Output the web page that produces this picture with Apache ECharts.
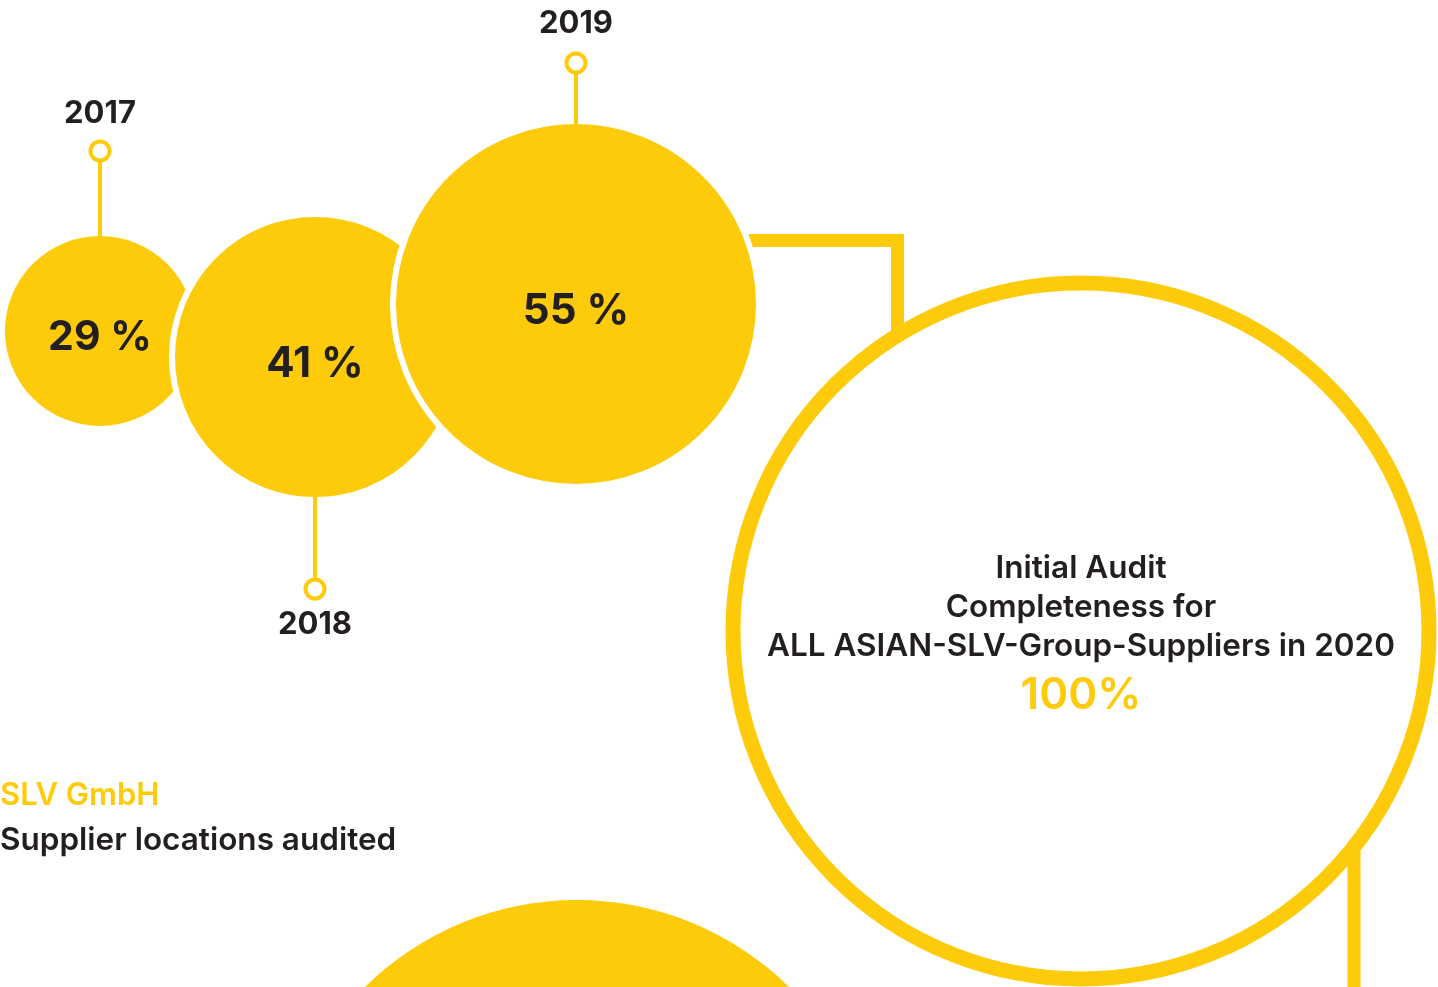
<!DOCTYPE html>
<html>
<head>
<meta charset="utf-8">
<script src="https://cdn.jsdelivr.net/npm/echarts@6/dist/echarts.min.js"></script>
<style>
html,body{margin:0;padding:0;background:#fff;}
#chart{width:1438px;height:987px;}
</style>
</head>
<body>
<div id="chart"></div>
<script>
// ---- data ----
const years = ['2017', '2018', '2019'];
const auditedShare = [29, 41, 55];            // % supplier locations audited
const targetYear = '2020';
const targetShare = 100;                        // % initial audit completeness
const headline = 'SLV GmbH';
const subline = 'Supplier locations audited';
const targetText = ['Initial Audit', 'Completeness for', 'ALL ASIAN-SLV-Group-Suppliers in 2020'];

// ---- layout (positions/sizes in an invisible 1438 x 987 coordinate frame) ----
const bubbleX = [100, 315, 576];
const bubbleY = [331, 357, 304];
const bubbleD = [196, 286, 366];
const pinY = [151, 589, 63];
const yearLabelY = [114, 625, 24];
const ring = {x: 1081, y: 631, d: 696};
const nextBubble = {x: 577, y: 1202, d: 604};

const YELLOW = '#FECB0B';
const DARK = '#231F20';
const FONT = 'Inter';

const series = [];

// pins (stems), starting just inside each bubble's rim
years.forEach((y, i) => {
  const dir = pinY[i] < bubbleY[i] ? -1 : 1;
  const startY = bubbleY[i] + dir * (bubbleD[i] / 2 - 12);
  series.push({
    type: 'line', z: 8, silent: true, symbol: 'none',
    lineStyle: {color: YELLOW, width: 4},
    data: [[bubbleX[i], startY], [bubbleX[i], pinY[i]]]
  });
});

// connector 2019 -> 2020 ring
series.push({
  type: 'line', z: 1, silent: true, symbol: 'none',
  lineStyle: {color: YELLOW, width: 13, join: 'miter', cap: 'butt'},
  data: [[bubbleX[2], 240.5], [897.5, 240.5], [897.5, 340]]
});
// right stem below ring
series.push({
  type: 'line', z: 1, silent: true, symbol: 'none',
  lineStyle: {color: YELLOW, width: 13, cap: 'butt'},
  data: [[1354, 830], [1354, 1000]]
});

// yearly bubbles
years.forEach((y, i) => {
  series.push({
    type: 'scatter', z: 3 + i, silent: true, clip: false,
    symbol: 'circle', symbolSize: bubbleD[i],
    itemStyle: {color: YELLOW, borderColor: '#fff', borderWidth: 6, opacity: 1},
    label: {
      show: true, position: 'inside', offset: [0, 7],
      formatter: () => auditedShare[i] + ' %',
      fontFamily: FONT, fontWeight: 700, fontSize: i === 0 ? 41 : 42, color: DARK
    },
    data: [[bubbleX[i], bubbleY[i], auditedShare[i]]]
  });
});

// pin heads + year labels
series.push({
  type: 'scatter', z: 10, silent: true, clip: false,
  symbol: 'circle', symbolSize: 19,
  itemStyle: {color: '#fff', borderColor: YELLOW, borderWidth: 4, opacity: 1},
  data: years.map((y, i) => [bubbleX[i], pinY[i]])
});
series.push({
  type: 'scatter', z: 10, silent: true, clip: false,
  symbolSize: 0, itemStyle: {opacity: 1},
  label: {
    show: true, position: 'inside',
    formatter: p => years[p.dataIndex],
    fontFamily: FONT, fontWeight: 700, fontSize: 31, color: DARK
  },
  data: years.map((y, i) => [bubbleX[i], yearLabelY[i]])
});

// 2020 target ring
series.push({
  type: 'scatter', z: 6, silent: true, clip: false,
  symbol: 'circle', symbolSize: ring.d,
  itemStyle: {color: '#fff', borderColor: YELLOW, borderWidth: 15, opacity: 1},
  data: [[ring.x, ring.y, targetShare]]
});
series.push({
  type: 'scatter', z: 11, silent: true, clip: false, symbolSize: 0, itemStyle: {opacity: 1},
  label: {
    show: true, position: 'inside',
    formatter: () => targetText.join('\n'),
    fontFamily: FONT, fontWeight: 600, fontSize: 31.5, lineHeight: 39, color: DARK, align: 'center'
  },
  data: [[ring.x, 608]]
});
series.push({
  type: 'scatter', z: 11, silent: true, clip: false, symbolSize: 0, itemStyle: {opacity: 1},
  label: {
    show: true, position: 'inside',
    formatter: () => targetShare + '%',
    fontFamily: FONT, fontWeight: 600, fontSize: 44, color: YELLOW
  },
  data: [[ring.x, 696]]
});

// next (partially visible) bubble at the bottom
series.push({
  type: 'scatter', z: 2, silent: true, clip: false,
  symbol: 'circle', symbolSize: nextBubble.d,
  itemStyle: {color: YELLOW, opacity: 1},
  data: [[nextBubble.x, nextBubble.y]]
});

const chart = echarts.init(document.getElementById('chart'), null, {renderer: 'canvas'});
chart.setOption({
  animation: false,
  backgroundColor: '#fff',
  title: {
    text: headline, subtext: subline, left: -5, top: 775, itemGap: 14,
    textStyle: {fontFamily: FONT, fontWeight: 600, fontSize: 31, color: YELLOW},
    subtextStyle: {fontFamily: FONT, fontWeight: 600, fontSize: 31.5, color: DARK}
  },
  grid: {left: 0, right: 0, top: 0, bottom: 0},
  xAxis: {type: 'value', min: 0, max: 1438, show: false},
  yAxis: {type: 'value', min: 0, max: 987, inverse: true, show: false},
  series: series
});
</script>
</body>
</html>
